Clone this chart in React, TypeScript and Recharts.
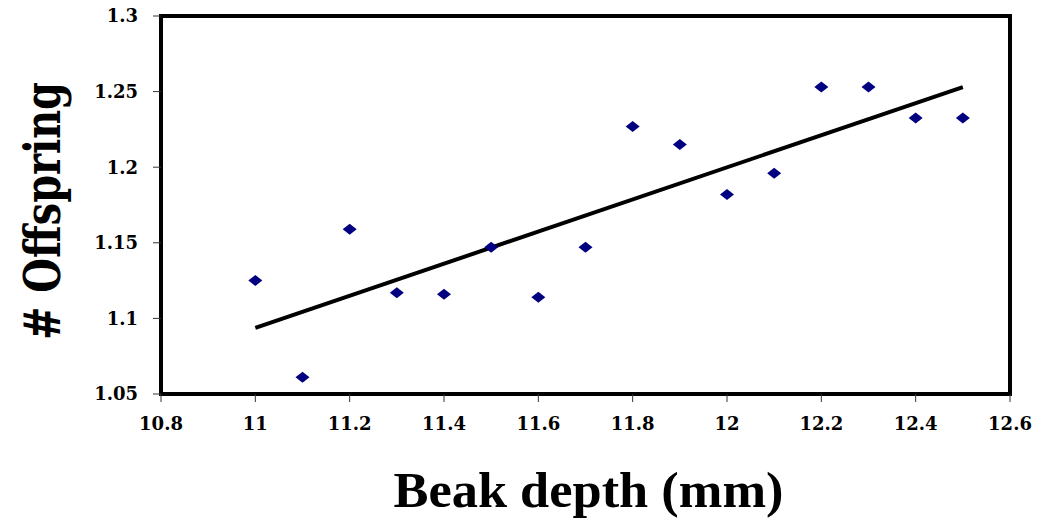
import { ScatterChart, Scatter, XAxis, YAxis, ReferenceArea, ReferenceLine, Label } from "recharts";

// beak depth (mm) vs offspring
const depths = [11, 11.1, 11.2, 11.3, 11.4, 11.5, 11.6, 11.7, 11.8, 11.9, 12, 12.1, 12.2, 12.3, 12.4, 12.5];
const offspring = [1.125, 1.061, 1.159, 1.117, 1.116, 1.147, 1.114, 1.147, 1.227, 1.215, 1.182, 1.196, 1.253, 1.253, 1.2325, 1.2325];

// fitted trend line end points
const trendX = [11, 12.5];
const trendY = [1.0937, 1.253];

const xTicks = [10.8, 11, 11.2, 11.4, 11.6, 11.8, 12, 12.2, 12.4, 12.6];
const yTicks = [1.05, 1.1, 1.15, 1.2, 1.25, 1.3];

const points = depths.map((x, i) => ({ x, y: offspring[i] }));

const tickFont = { fontFamily: "DejaVu Serif", fontWeight: 700, fontSize: 18, fill: "#000" };

// eslint-disable-next-line @typescript-eslint/no-explicit-any
function Diamond(props: any) {
  const { cx, cy } = props;
  if (cx == null || cy == null) return null;
  return (
    <polygon
      points={`${cx - 7},${cy} ${cx},${cy - 5.5} ${cx + 7},${cy} ${cx},${cy + 5.5}`}
      fill="#000080"
    />
  );
}

export default function App() {
  return (
    <div style={{ position: "absolute", left: 0, top: 0, background: "#fff" }}>
      <ScatterChart width={1052} height={520} margin={{ top: 16, right: 42, left: 0, bottom: 0 }}>
        <XAxis
          type="number"
          dataKey="x"
          domain={[10.8, 12.6]}
          ticks={xTicks}
          axisLine={false}
          tickSize={8}
          tickMargin={15}
          tickLine={{ stroke: "#333", strokeWidth: 1 }}
          tick={tickFont}
          height={126}
          allowDataOverflow
        >
          <Label
            // eslint-disable-next-line @typescript-eslint/no-explicit-any
            content={({ viewBox }: any) => (
              <text
                x={viewBox.x + viewBox.width / 2 + 3}
                y={viewBox.y + 113}
                textAnchor="middle"
                fontFamily="Liberation Serif"
                fontWeight={700}
                fontSize={50}
                textLength={390}
                lengthAdjust="spacingAndGlyphs"
                fill="#000"
              >
                Beak depth (mm)
              </text>
            )}
          />
        </XAxis>
        <YAxis
          type="number"
          dataKey="y"
          domain={[1.05, 1.3]}
          ticks={yTicks}
          axisLine={false}
          tickSize={8}
          tickMargin={15}
          tickLine={{ stroke: "#333", strokeWidth: 1 }}
          tick={tickFont}
          width={161}
          allowDataOverflow
        >
          <Label
            // eslint-disable-next-line @typescript-eslint/no-explicit-any
            content={({ viewBox }: any) => {
              const cy = viewBox.y + viewBox.height / 2 + 6;
              return (
                <text
                  x={60}
                  y={cy}
                  transform={`rotate(-90 60 ${cy})`}
                  textAnchor="middle"
                  fontFamily="DejaVu Serif"
                  fontWeight={700}
                  fontSize={50}
                  textLength={258}
                  lengthAdjust="spacingAndGlyphs"
                  fill="#000"
                >
                  # Offspring
                </text>
              );
            }}
          />
        </YAxis>
        <ReferenceArea x1={10.8} x2={12.6} y1={1.05} y2={1.3} fill="none" stroke="#000" strokeWidth={4} />
        <ReferenceLine
          segment={[
            { x: trendX[0], y: trendY[0] },
            { x: trendX[1], y: trendY[1] },
          ]}
          stroke="#000"
          strokeWidth={4}
        />
        <Scatter data={points} shape={<Diamond />} isAnimationActive={false} />
      </ScatterChart>
    </div>
  );
}
